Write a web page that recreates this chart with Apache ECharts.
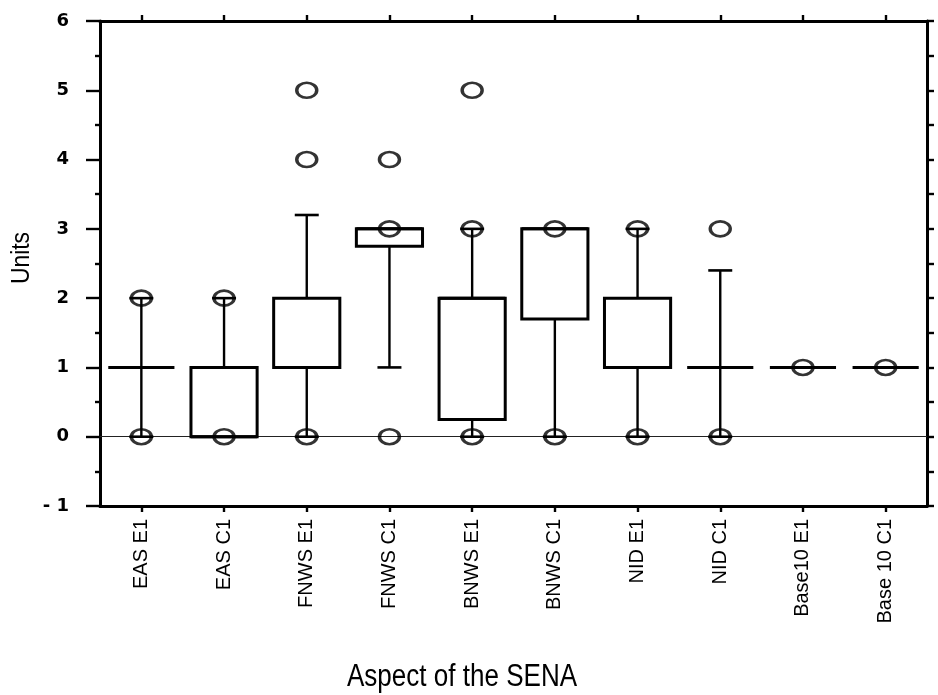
<!DOCTYPE html>
<html>
<head>
<meta charset="utf-8">
<script src="https://cdn.jsdelivr.net/npm/echarts@6/dist/echarts.min.js"></script>
<style>html,body{margin:0;padding:0;background:#fff;}#c{width:938px;height:695px;}</style>
</head>
<body>
<div id="c"></div>
<script>
var categories = ['EAS E1','EAS C1','FNWS E1','FNWS C1','BNWS E1','BNWS C1','NID E1','NID C1','Base10 E1','Base 10 C1'];
var whiskerLow  = [0, 0, 0, 1,    0,    0,   0, 0,   1, 1];
var q1          = [1, 0, 1, 2.75, 0.25, 1.7, 1, 1,   1, 1];
var median      = [1, 0, 1, 3,    2,    3,   1, 1,   1, 1];
var q3          = [1, 1, 2, 3,    2,    3,   2, 1,   1, 1];
var whiskerHigh = [2, 2, 3.2, 3,  3,    3,   3, 2.4, 1, 1];
var points = [[0,2],[0,0],[1,2],[1,0],[2,5],[2,4],[2,0],[3,4],[3,3],[3,0],[4,5],[4,3],[4,0],[5,3],[5,0],[6,3],[6,0],[7,3],[7,0],[8,1],[9,1]];
var xAxisTitle = 'Aspect of the SENA';
var yAxisTitle = 'Units';

var boxData = categories.map(function(c,i){return [i, whiskerLow[i], q1[i], median[i], q3[i], whiskerHigh[i]];});

var chart = echarts.init(document.getElementById('c'));
var LW = 3;
function renderBox(params, api){
  var i = api.value(0);
  var band = api.size([1,0])[0];
  var bw = band*0.8, cw = band*0.29;
  var pWL = api.coord([i, api.value(1)]);
  var pQ1 = api.coord([i, api.value(2)]);
  var pMd = api.coord([i, api.value(3)]);
  var pQ3 = api.coord([i, api.value(4)]);
  var pWH = api.coord([i, api.value(5)]);
  var x = pQ1[0];
  var ch = [];
  function line(x1,y1,x2,y2,w){ch.push({type:'line',shape:{x1:x1,y1:y1,x2:x2,y2:y2},style:{stroke:'#000',lineWidth:w||LW}});}
  if (api.value(5) > api.value(4)) { line(x,pQ3[1],x,pWH[1],2.4); line(x-cw/2,pWH[1],x+cw/2,pWH[1],2.6); }
  if (api.value(1) < api.value(2)) { line(x,pQ1[1],x,pWL[1],2.4); line(x-cw/2,pWL[1],x+cw/2,pWL[1],2.6); }
  if (api.value(4) > api.value(2)) {
    ch.push({type:'rect',shape:{x:x-bw/2,y:pQ3[1],width:bw,height:pQ1[1]-pQ3[1]},style:{stroke:'#000',lineWidth:LW,fill:'rgba(0,0,0,0)'}});
  }
  line(x-bw/2,pMd[1],x+bw/2,pMd[1]);
  return {type:'group',children:ch};
}

var sans = '"Liberation Sans",Arial,sans-serif';
var option = {
  animation:false,
  backgroundColor:'#fff',
  grid:{left:100,right:11,top:21,bottom:189,containLabel:false},
  graphic:[
    {type:'text',x:462,y:677,scaleX:0.84,
     style:{text:xAxisTitle,fill:'#000',font:'31px '+sans,textAlign:'center',textVerticalAlign:'middle'}},
    {type:'text',x:22,y:258,rotation:Math.PI/2,scaleX:0.88,
     style:{text:yAxisTitle,fill:'#000',font:'26px '+sans,textAlign:'center',textVerticalAlign:'middle'}}
  ],
  xAxis:[{
    type:'category', data:categories, position:'bottom',
    axisLine:{show:true,onZero:false,lineStyle:{color:'#000',width:LW}},
    axisTick:{show:true,alignWithLabel:true,inside:false,length:6,lineStyle:{color:'#000',width:2.4}},
    axisLabel:{rotate:90,margin:13,color:'#000',fontSize:20,fontFamily:sans},
    splitLine:{show:false}
  },{
    type:'category', data:categories, position:'top',
    axisLine:{show:true,onZero:false,lineStyle:{color:'#000',width:LW}},
    axisTick:{show:true,alignWithLabel:true,inside:false,length:6,lineStyle:{color:'#000',width:2.4}},
    axisLabel:{show:false}, splitLine:{show:false}
  }],
  yAxis:[{
    type:'value', min:-1, max:6, interval:1, position:'left',
    axisLine:{show:true,onZero:false,lineStyle:{color:'#000',width:LW}},
    axisTick:{show:true,inside:false,length:14,lineStyle:{color:'#000',width:2.4}},
    minorTick:{show:true,splitNumber:2,length:5,lineStyle:{color:'#000',width:2.4}},
    axisLabel:{margin:31,color:'#000',fontSize:18,fontWeight:'bold',fontFamily:'"DejaVu Sans",sans-serif',
      formatter:function(v){return v<0?'- '+Math.abs(v):String(v);}},
    splitLine:{show:false}
  },{
    type:'value', min:-1, max:6, interval:0.5, position:'right',
    axisLine:{show:true,onZero:false,lineStyle:{color:'#000',width:LW}},
    axisTick:{show:true,inside:false,length:7,lineStyle:{color:'#000',width:2.4}},
    axisLabel:{show:false}, splitLine:{show:false}
  }],
  series:[{
    type:'custom', xAxisIndex:0, yAxisIndex:0,
    renderItem:renderBox,
    encode:{x:0,y:[1,2,3,4,5]},
    data:boxData, z:3,
    markLine:{silent:true,symbol:'none',label:{show:false},
      lineStyle:{color:'#222',width:1.2,type:'solid'},
      data:[{yAxis:0}], z:1}
  },{
    type:'scatter', xAxisIndex:0, yAxisIndex:0,
    data:points, symbol:'circle', symbolSize:[20,15],
    itemStyle:{color:'rgba(0,0,0,0)',borderColor:'#000',borderWidth:3},
    z:4
  }]
};
chart.setOption(option);
</script>
</body>
</html>
